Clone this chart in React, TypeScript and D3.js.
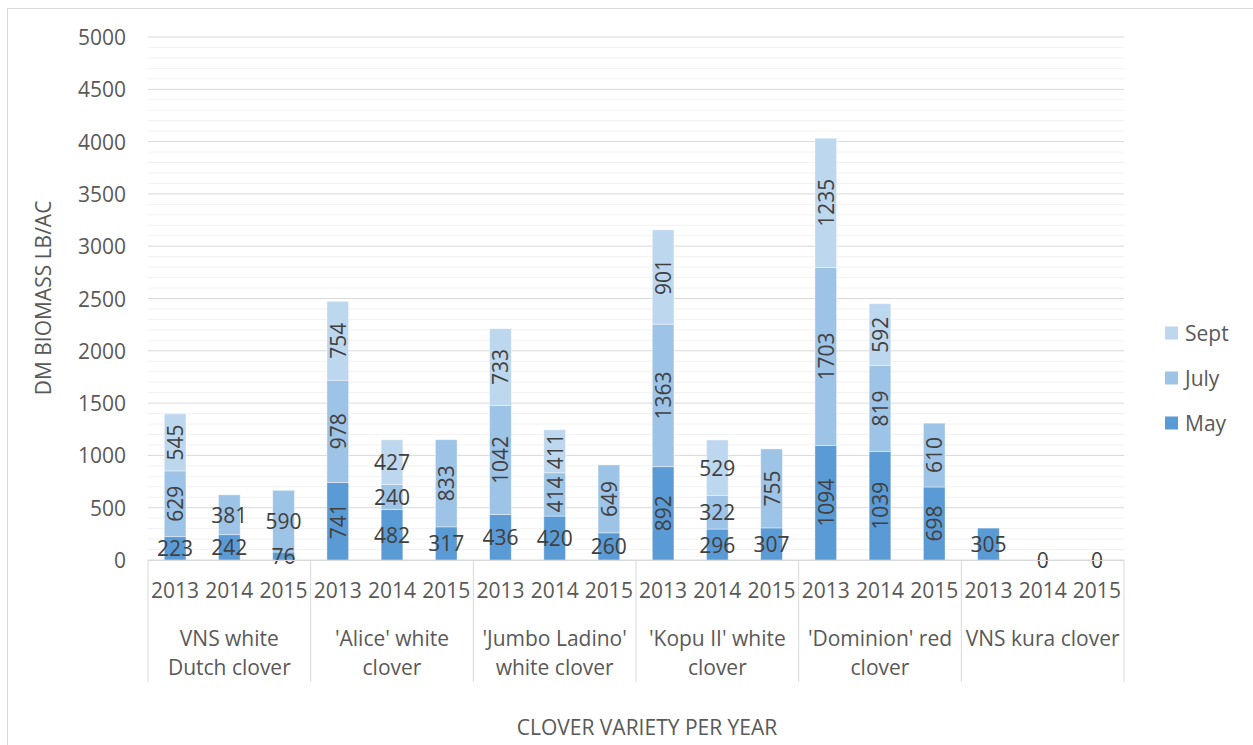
import React from "react";
import * as d3 from "d3";

const varieties: string[][] = [
  ["VNS white", "Dutch clover"],
  ["'Alice' white", "clover"],
  ["'Jumbo Ladino'", "white clover"],
  ["'Kopu II' white", "clover"],
  ["'Dominion' red", "clover"],
  ["VNS kura clover"],
];
const years = ["2013", "2014", "2015"];

const may: (number | null)[] = [223, 242, 76, 741, 482, 317, 436, 420, 260, 892, 296, 307, 1094, 1039, 698, 305, 0, 0];
const july: (number | null)[] = [629, 381, 590, 978, 240, 833, 1042, 414, 649, 1363, 322, 755, 1703, 819, 610, null, null, null];
const sept: (number | null)[] = [545, null, null, 754, 427, null, 733, 411, null, 901, 529, null, 1235, 592, null, null, null, null];

const seriesNames = ["May", "July", "Sept"];
const yTicks = [0, 500, 1000, 1500, 2000, 2500, 3000, 3500, 4000, 4500, 5000];

// label orientation style (1 = vertical)
const rotMay = [0, 0, 0, 1, 0, 0, 0, 0, 0, 1, 0, 0, 1, 1, 1, 0, 0, 0];
const rotJuly = [1, 0, 0, 1, 0, 1, 1, 1, 1, 1, 0, 1, 1, 1, 1, 0, 0, 0];
const rotSept = [1, 0, 0, 1, 0, 0, 1, 1, 0, 1, 0, 0, 1, 1, 0, 0, 0, 0];

const colors = ["#5B9BD5", "#9DC3E6", "#BDD7EE"];
const FONT = "'Open Sans', sans-serif";
const FS = 21;

export default function App() {
  const left = 148, right = 1124, top = 37, bottom = 560;
  const keys = d3.range(18).map(String);
  const x = d3.scaleBand().domain(keys).range([left, right]).paddingInner(0.6).paddingOuter(0.3);
  const y = d3.scaleLinear().domain([0, 5000]).range([bottom, top]);
  const minorTicks = d3.range(0, 5001, 100).filter((v) => v % 500 !== 0);
  const series = [may, july, sept];
  const rots = [rotMay, rotJuly, rotSept];
  const groupW = (right - left) / varieties.length;

  const segs: any[] = [];
  keys.forEach((k, i) => {
    let base = 0;
    series.forEach((s, si) => {
      const v = s[i];
      if (v === null) return;
      segs.push({ i, si, y0: base, y1: base + v, v, rot: rots[si][i] });
      base += v;
    });
  });

  return (
    <svg width={1253} height={745} style={{ position: "absolute", left: 0, top: 0, fontFamily: FONT }}>
      <rect x={0} y={0} width={1253} height={745} fill="#fff" />
      <rect x={7.5} y={8.5} width={1300} height={800} fill="none" stroke="#d9d9d9" strokeWidth={1} />
      {minorTicks.map((t) => (
        <line key={"m" + t} x1={left} x2={right} y1={y(t)} y2={y(t)} stroke="#f2f2f2" strokeWidth={1} />
      ))}
      {yTicks.map((t) => (
        <line key={"g" + t} x1={left} x2={right} y1={y(t)} y2={y(t)} stroke="#d9d9d9" strokeWidth={1} />
      ))}
      {yTicks.map((t) => (
        <text key={"t" + t} x={126} y={y(t)} textAnchor="end" dominantBaseline="central" fontSize={FS} fill="#595959">
          {t}
        </text>
      ))}
      {segs.map((d, j) => (
        <rect
          key={"b" + j}
          x={x(String(d.i))}
          y={y(d.y1)}
          width={x.bandwidth()}
          height={y(d.y0) - y(d.y1)}
          fill={colors[d.si]}
          stroke="#ffffff"
          strokeOpacity={0.5}
          strokeWidth={0.8}
        />
      ))}
      {segs.map((d, j) => {
        const cx = (x(String(d.i)) as number) + x.bandwidth() / 2;
        const cy = (y(d.y0) + y(d.y1)) / 2;
        return (
          <text
            key={"l" + j}
            x={cx}
            y={cy}
            textAnchor="middle"
            dominantBaseline="central"
            fontSize={FS}
            fill="#404040"
            transform={d.rot ? `rotate(-90 ${cx} ${cy})` : undefined}
          >
            {d.v}
          </text>
        );
      })}
      <line x1={left} x2={right} y1={bottom + 0.5} y2={bottom + 0.5} stroke="#d9d9d9" strokeWidth={1} />
      {d3.range(varieties.length + 1).map((g) => (
        <line key={"d" + g} x1={left + g * groupW} x2={left + g * groupW} y1={bottom} y2={682} stroke="#d9d9d9" strokeWidth={1} />
      ))}
      {keys.map((k, i) => (
        <text key={"y" + i} x={(x(k) as number) + x.bandwidth() / 2} y={590} textAnchor="middle" dominantBaseline="central" fontSize={FS} fill="#595959">
          {years[i % 3]}
        </text>
      ))}
      {varieties.map((lines, g) => (
        <text key={"v" + g} x={left + (g + 0.5) * groupW} y={638} textAnchor="middle" fontSize={FS} fill="#595959">
          {lines.map((ln, li) => (
            <tspan key={li} x={left + (g + 0.5) * groupW} y={638 + li * 29} dominantBaseline="central">
              {ln}
            </tspan>
          ))}
        </text>
      ))}
      <text x={647} y={727} textAnchor="middle" dominantBaseline="central" fontSize={FS} fill="#595959">
        CLOVER VARIETY PER YEAR
      </text>
      <text
        x={43}
        y={298}
        textAnchor="middle"
        dominantBaseline="central"
        fontSize={FS}
        fill="#595959"
        transform="rotate(-90 43 298)"
      >
        DM BIOMASS LB/AC
      </text>
      {[2, 1, 0].map((si, r) => (
        <g key={"lg" + si}>
          <rect x={1165} y={333 + r * 45 - 6.5} width={13} height={13} fill={colors[si]} />
          <text x={1185} y={333 + r * 45} dominantBaseline="central" fontSize={FS} fill="#595959">
            {seriesNames[si]}
          </text>
        </g>
      ))}
    </svg>
  );
}
